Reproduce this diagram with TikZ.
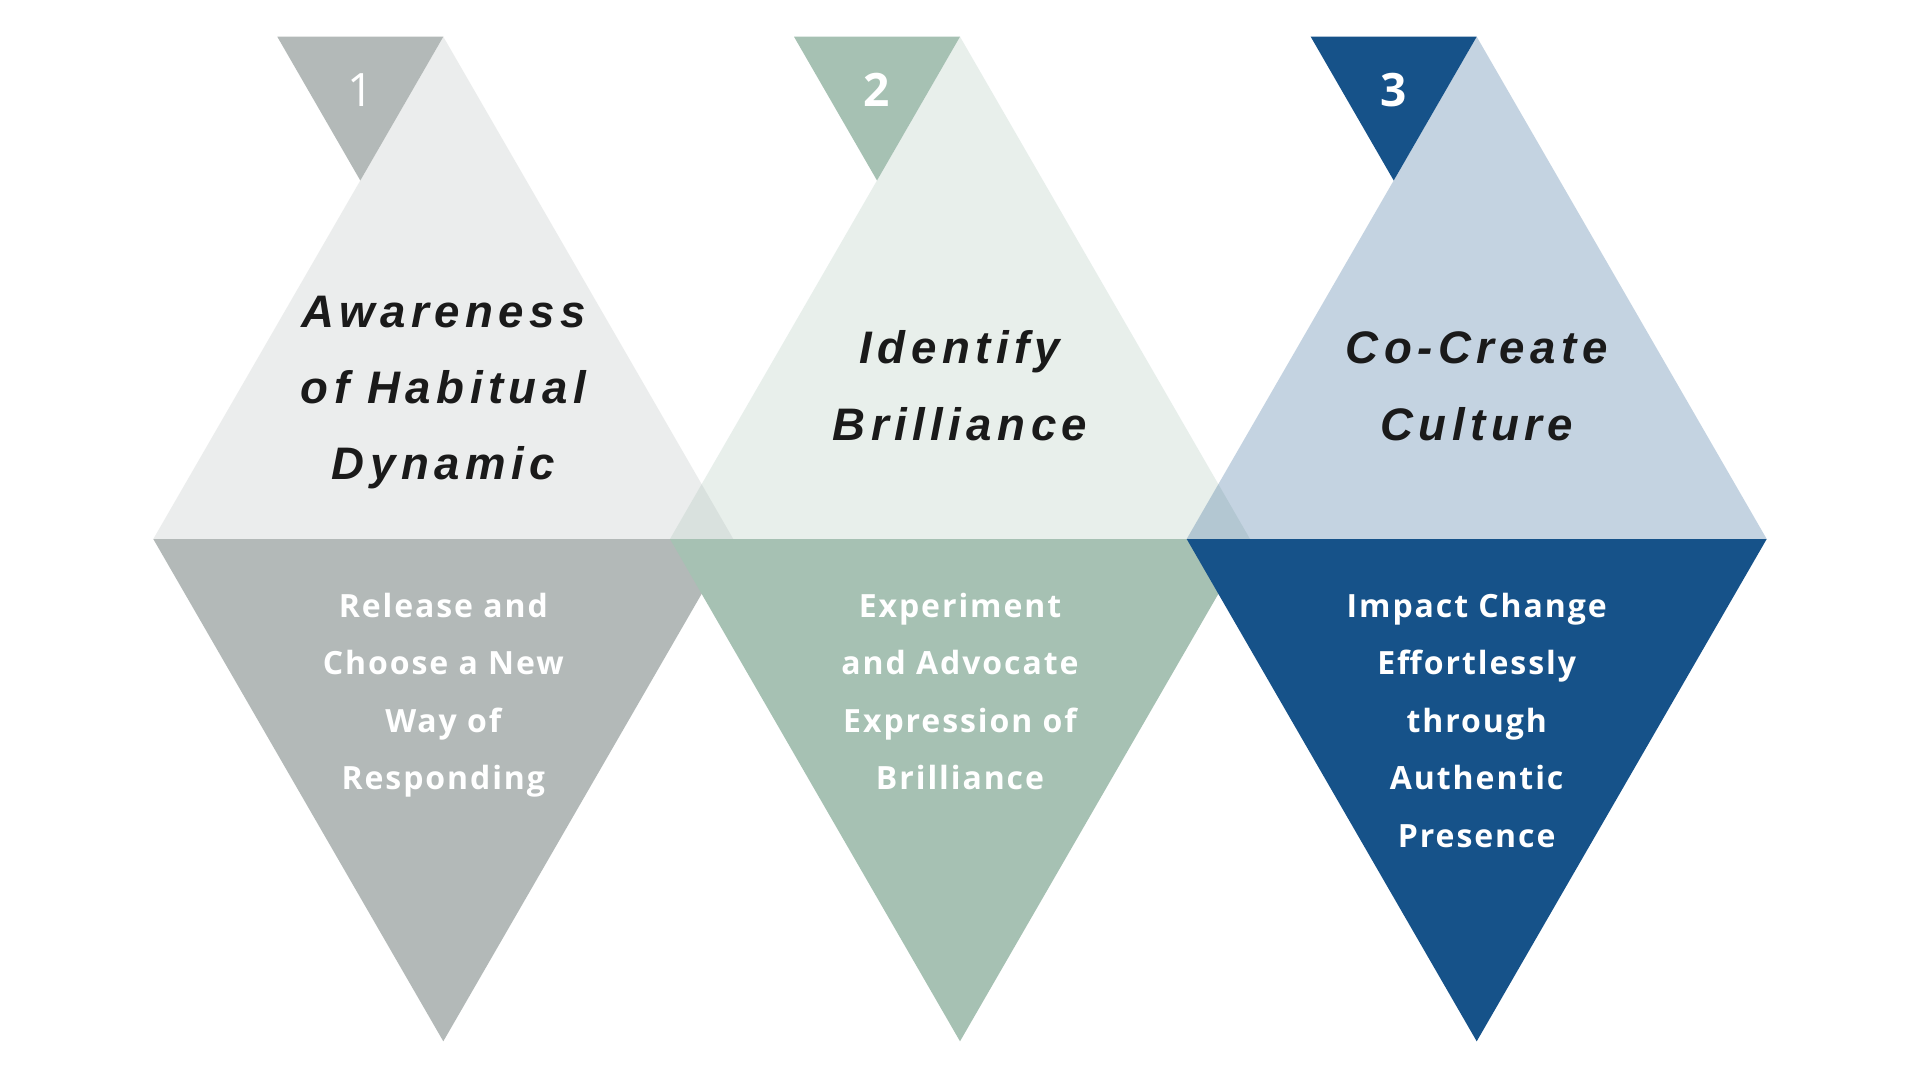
\documentclass[tikz,border=0pt]{standalone}
\usepackage{fontspec}
\setmainfont{Liberation Sans}
\newfontfamily\headfont{Liberation Sans}[LetterSpace=12]
\newfontfamily\bodyfont{Open Sans}[LetterSpace=6]
\newfontfamily\numfont{Open Sans}
\definecolor{cgray}{HTML}{B3B9B8}
\definecolor{cgreen}{HTML}{A6C1B3}
\definecolor{cblue}{HTML}{165289}
\definecolor{ink}{HTML}{1A1A1A}
\begin{document}
\begin{tikzpicture}[x=1pt,y=-1pt,
  upper/.style={fill=#1, fill opacity=0.25, draw=none},
  lower/.style={fill=#1, draw=none},
  small/.style={fill=#1, draw=none},
  head/.style={anchor=base, inner sep=0pt, text=ink, font=\headfont\bfseries\itshape\fontsize{45.6}{50}\selectfont},
  body/.style={anchor=base, inner sep=0pt, text=white, font=\bodyfont\bfseries\fontsize{32}{36}\selectfont},
  numlight/.style={anchor=base, inner sep=0pt, text=white, font=\numfont\fontsize{46}{50}\selectfont},
  numbold/.style={anchor=base, inner sep=0pt, text=white, font=\numfont\bfseries\fontsize{46}{50}\selectfont}]
\path[use as bounding box, fill=white] (0,0) rectangle (1920,1080);
% triangles
\foreach \c [count=\i from 0] in {cgray,cgreen,cblue} {
  \pgfmathsetmacro\cx{443.3+516.7*\i}
  \fill[small=\c] ({\cx-166},36.7) -- (\cx,36.7) -- ({\cx-83},180.5) -- cycle;
  \fill[upper=\c] (\cx,36.7) -- ({\cx+290},539) -- ({\cx-290},539) -- cycle;
  \fill[lower=\c] ({\cx-290},539) -- ({\cx+290},539) -- (\cx,1041.3) -- cycle;
}
% numbers
\node[numlight] (n1) at (360.3,106.7) {1};
\node[numbold] (n2) at (877,106.7) {2};
\node[numbold] (n3) at (1393.7,106.7) {3};
% headings
\foreach \t [count=\k from 0] in {Awareness,of Habitual,Dynamic}
  \node[head] (ha\k) at (443.3,{327+76*\k}) {\t};
\foreach \t [count=\k from 0] in {Identify,Brilliance}
  \node[head] (hb\k) at (960,{363+77*\k}) {\t};
\foreach \t [count=\k from 0] in {Co-Create,Culture}
  \node[head] (hc\k) at (1476.7,{363+77*\k}) {\t};
% body texts
\foreach \t [count=\k from 0] in {Release and,Choose a New,Way of,Responding}
  \node[body] (ba\k) at (443.3,{617.3+57.5*\k}) {\t};
\foreach \t [count=\k from 0] in {Experiment,and Advocate,Expression of,Brilliance}
  \node[body] (bb\k) at (960,{617.3+57.5*\k}) {\t};
\foreach \t [count=\k from 0] in {Impact Change,Effortlessly,through,Authentic,Presence}
  \node[body] (bc\k) at (1476.7,{617.3+57.5*\k}) {\t};
\end{tikzpicture}
\end{document}
